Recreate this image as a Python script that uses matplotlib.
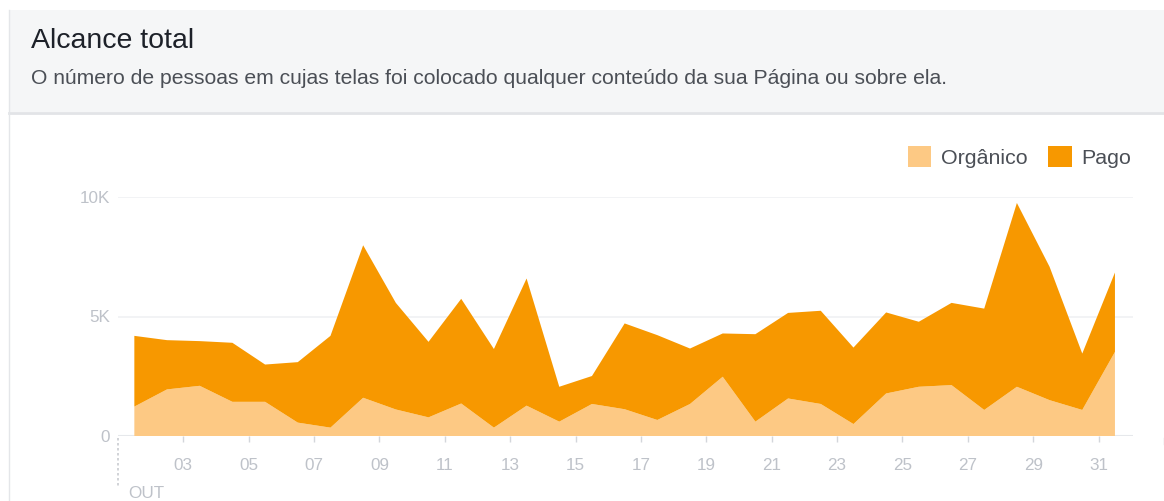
import numpy as np
import matplotlib
matplotlib.use("Agg")
import matplotlib.pyplot as plt
from matplotlib.patches import Rectangle, Patch
from matplotlib.transforms import blended_transform_factory

plt.rcParams['font.family'] = ['Liberation Sans', 'DejaVu Sans']

# Daily reach for October (days 1..31)
days = list(range(1, 32))
organico = [1230, 1950, 2100, 1430, 1430, 560, 350, 1600, 1110, 780,
            1360, 350, 1270, 600, 1340, 1120, 670, 1340, 2480, 600,
            1570, 1340, 500, 1780, 2060, 2130, 1090, 2060, 1500, 1090,
            3520]
pago = [2960, 2060, 1870, 2470, 1560, 2530, 3840, 6380, 4460, 3160,
        4380, 3290, 5320, 1460, 1170, 3590, 3550, 2320, 1810, 3660,
        3580, 3900, 3200, 3390, 2720, 3440, 4240, 7690, 5580, 2360,
        3320]
x_ticks = list(range(3, 32, 2))
x_labels = [f"{d:02d}" for d in x_ticks]
y_ticks = [0, 5000, 10000]
y_labels = ["0", "5K", "10K"]

W, H = 1164, 501
fig = plt.figure(figsize=(W / 100, H / 100), dpi=100)
fig.patch.set_facecolor("white")


def fx(px):
    return px / W


def fy(py):
    return 1 - py / H


# Header card
fig.add_artist(Rectangle((fx(9), fy(112)), fx(W - 9), (102) / H,
                         transform=fig.transFigure, facecolor="#f5f6f7",
                         edgecolor="none", zorder=0))
fig.add_artist(plt.Line2D([fx(9), 1], [fy(112.5), fy(112.5)],
                          transform=fig.transFigure, color="#e2e4e7", lw=2))
fig.add_artist(plt.Line2D([fx(9), fx(9)], [fy(10), 0],
                          transform=fig.transFigure, color="#e4e6e9", lw=1))

fig.text(fx(31), fy(41), "Alcance total", fontsize=20.5, color="#1d2129",
         va="center", ha="left")
fig.text(fx(31), fy(78),
         "O número de pessoas em cujas telas foi colocado qualquer conteúdo da sua Página ou sobre ela.",
         fontsize=15.2, color="#4b4f56", va="center", ha="left")

# Chart axes
x0, x1 = 118, 1133
y_top, y_zero = 197, 436
ax = fig.add_axes([fx(x0), fy(y_zero), (x1 - x0) / W, (y_zero - y_top) / H])
ax.set_facecolor("none")

x = np.array(days) + 0.5
ax.stackplot(x, organico, pago, colors=["#fdc984", "#f79800"],
             linewidth=0, zorder=3)

ax.set_xlim(1, 1 + (x1 - 117.6) / 32.7)
ax.set_ylim(0, 10000)

for s in ax.spines.values():
    s.set_visible(False)

ax.set_yticks(y_ticks)
ax.set_yticklabels(y_labels)
ax.set_xticks(x_ticks)
ax.set_xticklabels(x_labels)
ax.yaxis.grid(True, color="#f0f1f3", lw=1.2, zorder=0)
ax.set_axisbelow(True)
ax.axhline(0, color="#e6e8eb", lw=1.5, zorder=1)

ax.tick_params(axis="y", length=0, pad=6, labelsize=12.3, labelcolor="#bec2c9")
ax.tick_params(axis="x", length=4.5, width=1, color="#d3d6db", pad=11,
               labelsize=12.3, labelcolor="#bec2c9")

bt = blended_transform_factory(ax.transData, ax.transAxes)
px_h = y_zero - y_top
# Month start marker
ax.plot([1, 1], [-2 / px_h, -52 / px_h], transform=bt, clip_on=False,
        color="#c9ccd1", lw=1.2, ls=(0, (1.5, 1.5)))
ax.text(1.3, -58 / px_h, "OUT", transform=bt, fontsize=12.3,
        color="#bec2c9", ha="left", va="center")
# Next tick just past the plotting area
ax.plot([33, 33], [-2 / px_h, -8 / px_h], transform=bt, clip_on=False,
        color="#d3d6db", lw=1)

handles = [Patch(facecolor="#fdc984", edgecolor="none", label="Orgânico"),
           Patch(facecolor="#f79800", edgecolor="none", label="Pago")]
fig.legend(handles=handles, loc="center right", ncol=2, frameon=False,
           bbox_to_anchor=(fx(1131), fy(157)), fontsize=15.4,
           handlelength=1.1, handleheight=1.1, handletextpad=0.45,
           columnspacing=0.95, labelcolor="#4b4f56", borderpad=0,
           borderaxespad=0)

fig.savefig("out.png", dpi=100)
